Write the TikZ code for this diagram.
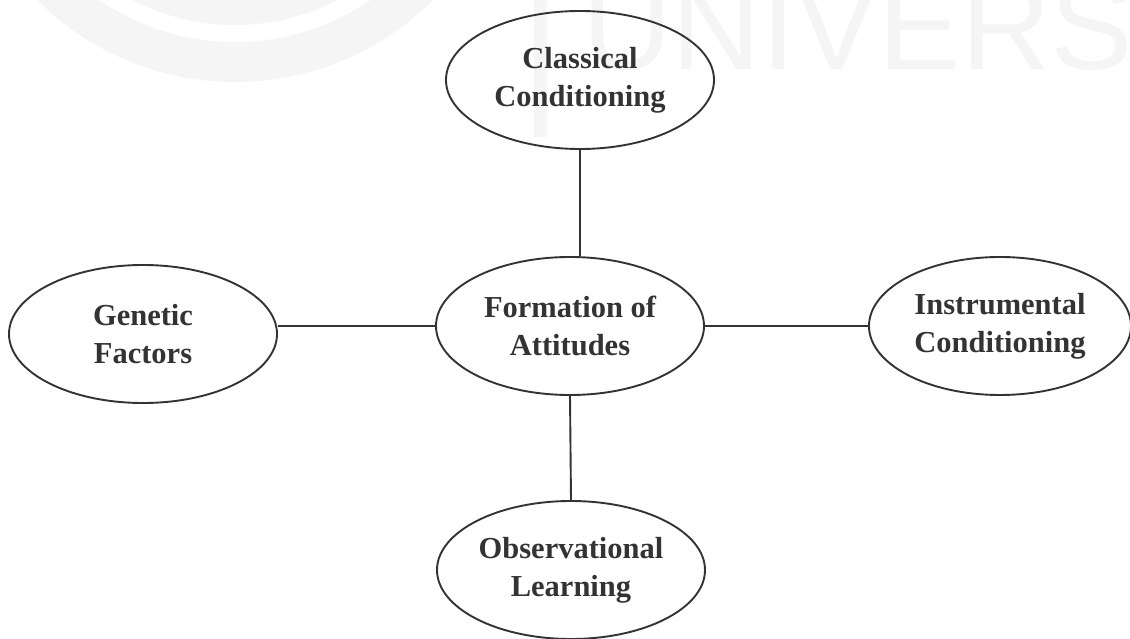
\documentclass[tikz,border=0pt]{standalone}
\usepackage{fontspec}
\setmainfont{Liberation Serif}
\newfontfamily\wmfont{Liberation Sans}
\usetikzlibrary{shapes.geometric}
\definecolor{ink}{HTML}{333333}
\definecolor{wm}{HTML}{F5F5F5}
\tikzset{
  bubble/.style={ellipse, draw=ink, line width=1.9pt, minimum width=268pt, minimum height=138pt,
    inner sep=0pt, align=center, text=ink, font=\fontsize{30.5}{38}\selectfont\bfseries},
  link/.style={draw=ink, line width=1.9pt}
}
\begin{document}
\begin{tikzpicture}[x=1pt,y=-1pt]
\useasboundingbox (0,0) rectangle (1130,639);
\begin{scope}
  \clip (0,0) rectangle (1130,639);
  \fill[wm, even odd rule] (235,-198) circle (280pt) circle (240pt);
  \fill[wm, even odd rule] (235,-198) circle (223pt) circle (198pt);
  \fill[wm] (534,0) rectangle (547,137);
  \node[anchor=base west, inner sep=0pt, text=wm, font=\wmfont\fontsize{124}{124}\selectfont] (wmtext) at (582,70) {UNIVERS};
\end{scope}
\node[bubble] (cls) at (580,80) {Classical\\Conditioning};
\node[bubble] (gen) at (143,334) {Genetic\\Factors};
\node[bubble] (form) at (570,326) {Formation of\\Attitudes};
\node[bubble, minimum width=262pt] (ins) at (1000,326) {Instrumental\\Conditioning};
\node[bubble] (obs) at (571,570) {Observational\\Learning};
\draw[link] (cls.south) -- (cls.south |- form.north);
\draw[link] (form.west) -- (form.west -| gen.east);
\draw[link] (form.east) -- (form.east -| ins.west);
\draw[link] (form.south) -- (obs.north);
\end{tikzpicture}
\end{document}
